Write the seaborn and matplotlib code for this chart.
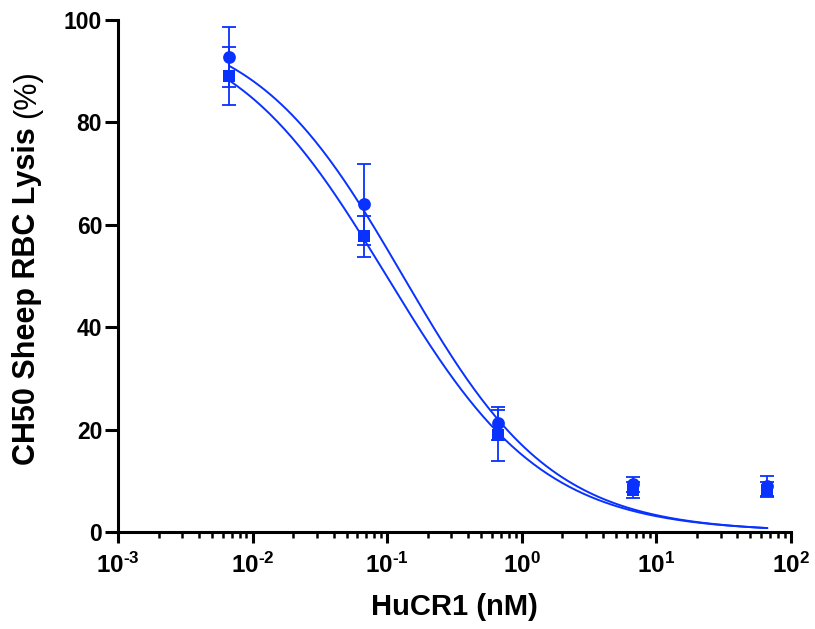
import numpy as np
import pandas as pd
import matplotlib
matplotlib.use("Agg")
import matplotlib.pyplot as plt
import matplotlib.ticker as mticker
import seaborn as sns

# ---- data ----
conc_nM = [0.00667, 0.0667, 0.667, 6.67, 66.7]
series_names = ["Circle series", "Square series"]
circle_mean = [92.8, 64.0, 21.2, 9.3, 9.0]
circle_sd = [5.8, 7.9, 3.3, 1.4, 2.0]
square_mean = [89.1, 57.8, 18.9, 8.2, 8.3]
square_sd = [5.7, 4.0, 5.0, 1.5, 1.4]
# four-parameter logistic fit parameters (top, bottom, IC50, Hill slope)
circle_fit = [100.0, 0.0, 0.131, 0.78]
square_fit = [100.0, 0.0, 0.099, 0.747]
x_ticks = [1e-3, 1e-2, 1e-1, 1e0, 1e1, 1e2]
x_tick_exponents = ["-3", "-2", "-1", "0", "1", "2"]
y_ticks = [0, 20, 40, 60, 80, 100]

BLUE = "#0a32ff"

sns.set_style("ticks")
plt.rcParams["font.family"] = ["Liberation Sans", "DejaVu Sans"]
plt.rcParams["mathtext.fontset"] = "custom"
plt.rcParams["mathtext.rm"] = "Liberation Sans:bold"
plt.rcParams["mathtext.bf"] = "Liberation Sans:bold"
plt.rcParams["mathtext.default"] = "regular"
plt.rcParams["text.color"] = "black"
plt.rcParams["xtick.color"] = "black"
plt.rcParams["ytick.color"] = "black"
plt.rcParams["axes.labelcolor"] = "black"

df = pd.DataFrame({
    "conc": conc_nM * 2,
    "lysis": circle_mean + square_mean,
    "sd": circle_sd + square_sd,
    "series": [series_names[0]] * 5 + [series_names[1]] * 5,
})

def four_pl(x, p):
    top, bottom, ic50, hill = p
    return bottom + (top - bottom) / (1 + (x / ic50) ** hill)

xs = np.logspace(np.log10(min(conc_nM)), np.log10(max(conc_nM)), 300)
curve = pd.DataFrame({
    "conc": np.concatenate([xs, xs]),
    "lysis": np.concatenate([four_pl(xs, circle_fit), four_pl(xs, square_fit)]),
    "series": [series_names[0]] * len(xs) + [series_names[1]] * len(xs),
})

fig = plt.figure(figsize=(8.15, 6.29), dpi=100)
ax = fig.add_axes([118 / 815, 1 - 532 / 629, (791 - 118) / 815, (532 - 20) / 629])

pal = {series_names[0]: BLUE, series_names[1]: BLUE}
sns.lineplot(data=curve, x="conc", y="lysis", hue="series", palette=pal,
             linewidth=1.4, legend=False, ax=ax, zorder=2)

for name, marker, ms in [(series_names[1], "s", 8.6), (series_names[0], "o", 9.2)]:
    sub = df[df["series"] == name]
    ax.errorbar(sub["conc"], sub["lysis"], yerr=sub["sd"], fmt="none",
                ecolor=BLUE, elinewidth=1.3, capsize=4.7, capthick=1.3, zorder=3)
    sns.scatterplot(data=sub, x="conc", y="lysis", marker=marker, color=BLUE,
                    s=ms ** 2, edgecolor=BLUE, linewidth=0, legend=False,
                    ax=ax, zorder=4)

ax.set_xscale("log")
ax.set_xlim(1e-3, 1e2)
ax.set_ylim(0, 100)
ax.set_xticks(x_ticks)
ax.set_yticks(y_ticks)
ax.xaxis.set_minor_locator(mticker.LogLocator(base=10, subs=np.arange(2, 10), numticks=20))
ax.xaxis.set_minor_formatter(mticker.NullFormatter())
ax.set_xticklabels([r"$10^{\text{%s}}$" % e for e in x_tick_exponents])

sns.despine(ax=ax)
for s in ["left", "bottom"]:
    ax.spines[s].set_linewidth(2.2)
    ax.spines[s].set_color("black")
ax.tick_params(axis="y", which="major", length=9.4, width=2.2, labelsize=16.5, pad=2,
               colors="black")
ax.tick_params(axis="x", which="major", length=8, width=2.2, labelsize=17.5, pad=7,
               colors="black")
ax.tick_params(axis="x", which="minor", length=4.5, width=1.8, colors="black")
for lab in ax.get_yticklabels() + ax.get_xticklabels():
    lab.set_fontweight("bold")

ax.set_xlabel("HuCR1 (nM)", fontsize=21, fontweight="bold", labelpad=11)
ax.set_ylabel("")

# y label: bold main part + regular "(%)"
main = fig.text(27 / 815, 1 - 465 / 629, "CH50 Sheep RBC Lysis", rotation=90,
                rotation_mode="anchor", ha="left", va="center",
                fontsize=22, fontweight="bold")
fig.canvas.draw()
bb = main.get_window_extent(fig.canvas.get_renderer())
top_px = bb.y1 + 9
fig.text(27 / 815, top_px / fig.bbox.height, "(%)", rotation=90,
         rotation_mode="anchor", ha="left", va="center", fontsize=22)

fig.savefig("out.png", dpi=100)
